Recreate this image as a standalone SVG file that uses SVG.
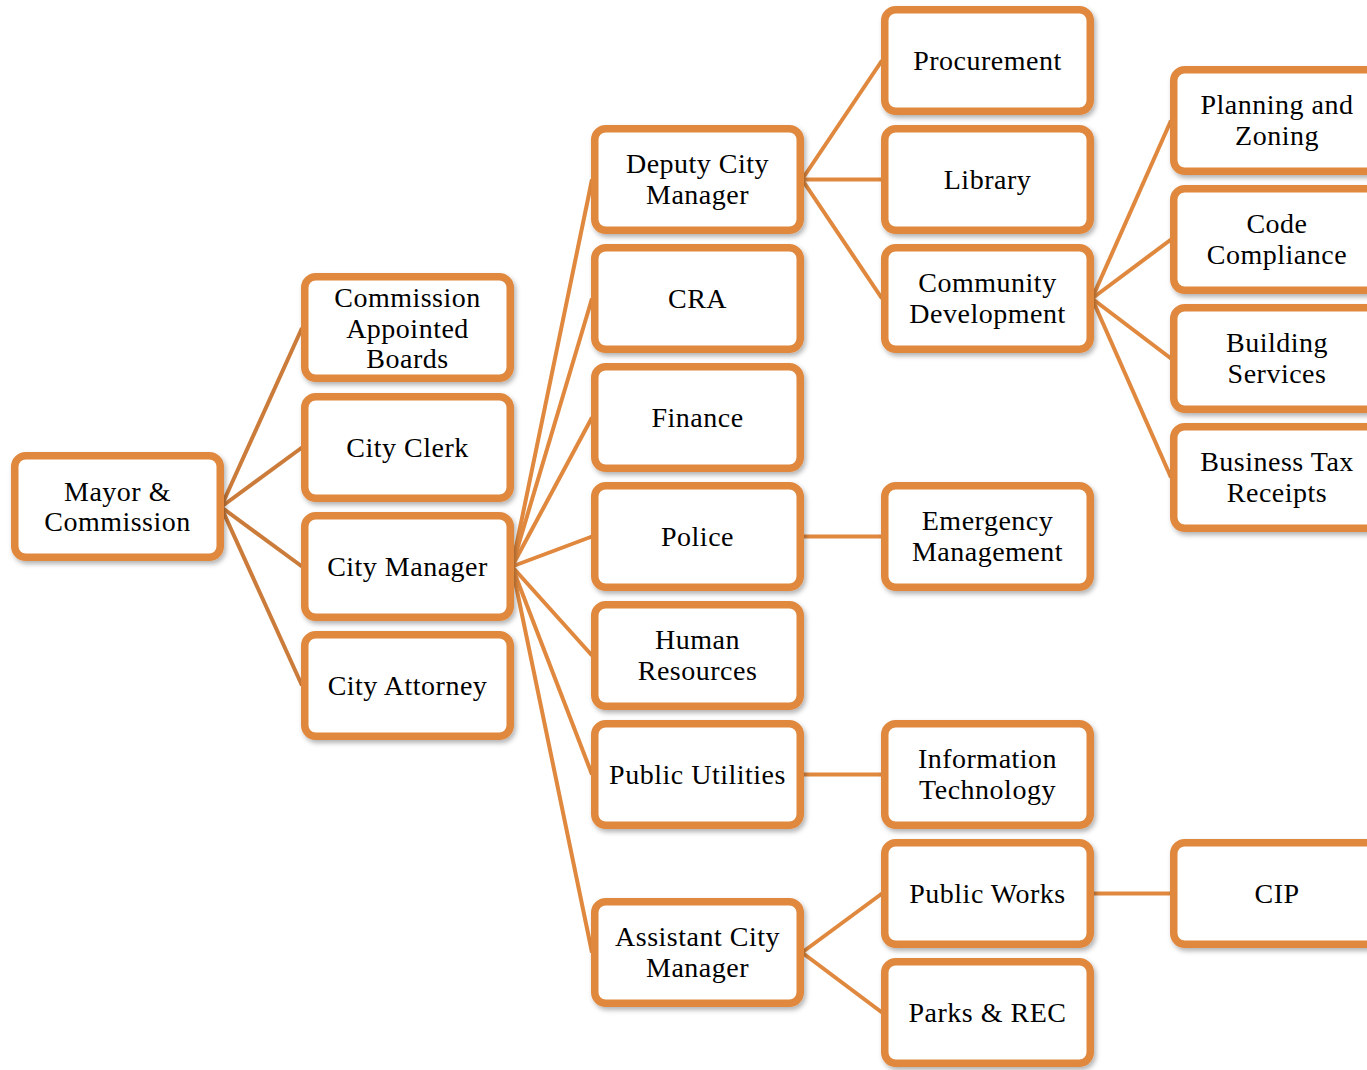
<svg xmlns="http://www.w3.org/2000/svg" width="1367" height="1070" viewBox="0 0 1367 1070">
<defs>
<filter id="sh" x="-10%" y="-10%" width="125%" height="130%">
<feDropShadow dx="2" dy="3" stdDeviation="2.5" flood-color="#000" flood-opacity="0.3"/>
</filter>
<style>
.n rect{fill:#fff;stroke:#E0883E;stroke-width:7.5;filter:url(#sh)}
.n text{font-family:"Liberation Serif","Times New Roman",serif;font-size:28px;letter-spacing:0.5px;fill:#000;text-anchor:middle}
.c line{stroke:#E0883E;stroke-width:4}
.c line.m{stroke:#CC7C3A}
</style>
</defs>
<rect width="1367" height="1070" fill="#fff"/>
<g id="connectors" class="c">
<line class="m" x1="221" y1="507" x2="302" y2="328"/>
<line class="m" x1="221" y1="507" x2="302" y2="447.5"/>
<line class="m" x1="221" y1="507" x2="302" y2="566.5"/>
<line class="m" x1="221" y1="507" x2="302" y2="685.5"/>
<line x1="512" y1="566.5" x2="592" y2="179.5"/>
<line x1="512" y1="566.5" x2="592" y2="298.5"/>
<line x1="512" y1="566.5" x2="592" y2="417.5"/>
<line x1="512" y1="566.5" x2="592" y2="536.5"/>
<line x1="512" y1="566.5" x2="592" y2="655.5"/>
<line x1="512" y1="566.5" x2="592" y2="774.5"/>
<line x1="512" y1="566.5" x2="592" y2="952.5"/>
<line x1="802" y1="179.5" x2="882" y2="60.5"/>
<line x1="802" y1="179.5" x2="882" y2="179.5"/>
<line x1="802" y1="179.5" x2="882" y2="298.5"/>
<line x1="802" y1="536.5" x2="882" y2="536.5"/>
<line x1="802" y1="774.5" x2="882" y2="774.5"/>
<line x1="802" y1="952.5" x2="882" y2="893.5"/>
<line x1="802" y1="952.5" x2="882" y2="1012.5"/>
<line x1="1092" y1="298.5" x2="1171" y2="120.5"/>
<line x1="1092" y1="298.5" x2="1171" y2="239.5"/>
<line x1="1092" y1="298.5" x2="1171" y2="358.5"/>
<line x1="1092" y1="298.5" x2="1171" y2="477.5"/>
<line x1="1092" y1="893.5" x2="1171" y2="893.5"/>
</g>
<g id="mayor" class="n"><rect x="14.75" y="455.75" width="205.5" height="101.5" rx="11"/><text x="117.5" y="500.5">Mayor &amp;</text><text x="117.5" y="530.5">Commission</text></g>
<g id="boards" class="n"><rect x="304.75" y="276.75" width="205.5" height="101.5" rx="11"/><text x="407.5" y="307">Commission</text><text x="407.5" y="337.5">Appointed</text><text x="407.5" y="368">Boards</text></g>
<g id="clerk" class="n"><rect x="304.75" y="396.75" width="205.5" height="101.5" rx="11"/><text x="407.5" y="456.5">City Clerk</text></g>
<g id="manager" class="n"><rect x="304.75" y="515.75" width="205.5" height="101.5" rx="11"/><text x="407.5" y="575.5">City Manager</text></g>
<g id="attorney" class="n"><rect x="304.75" y="634.75" width="205.5" height="101.5" rx="11"/><text x="407.5" y="694.5">City Attorney</text></g>
<g id="deputy" class="n"><rect x="594.75" y="128.75" width="205.5" height="101.5" rx="11"/><text x="697.5" y="173">Deputy City</text><text x="697.5" y="203.5">Manager</text></g>
<g id="cra" class="n"><rect x="594.75" y="247.75" width="205.5" height="101.5" rx="11"/><text x="697.5" y="307.5">CRA</text></g>
<g id="finance" class="n"><rect x="594.75" y="366.75" width="205.5" height="101.5" rx="11"/><text x="697.5" y="426.5">Finance</text></g>
<g id="police" class="n"><rect x="594.75" y="485.75" width="205.5" height="101.5" rx="11"/><text x="697.5" y="545.5">Police</text></g>
<g id="hr" class="n"><rect x="594.75" y="604.75" width="205.5" height="101.5" rx="11"/><text x="697.5" y="649">Human</text><text x="697.5" y="679.5">Resources</text></g>
<g id="utilities" class="n"><rect x="594.75" y="723.75" width="205.5" height="101.5" rx="11"/><text x="697.5" y="783.5">Public Utilities</text></g>
<g id="assistant" class="n"><rect x="594.75" y="901.75" width="205.5" height="101.5" rx="11"/><text x="697.5" y="946">Assistant City</text><text x="697.5" y="976.5">Manager</text></g>
<g id="procurement" class="n"><rect x="884.75" y="9.75" width="205.5" height="101.5" rx="11"/><text x="987.5" y="69.5">Procurement</text></g>
<g id="library" class="n"><rect x="884.75" y="128.75" width="205.5" height="101.5" rx="11"/><text x="987.5" y="188.5">Library</text></g>
<g id="community" class="n"><rect x="884.75" y="247.75" width="205.5" height="101.5" rx="11"/><text x="987.5" y="292">Community</text><text x="987.5" y="322.5">Development</text></g>
<g id="emergency" class="n"><rect x="884.75" y="485.75" width="205.5" height="101.5" rx="11"/><text x="987.5" y="530">Emergency</text><text x="987.5" y="560.5">Management</text></g>
<g id="it" class="n"><rect x="884.75" y="723.75" width="205.5" height="101.5" rx="11"/><text x="987.5" y="768">Information</text><text x="987.5" y="798.5">Technology</text></g>
<g id="publicworks" class="n"><rect x="884.75" y="842.75" width="205.5" height="101.5" rx="11"/><text x="987.5" y="902.5">Public Works</text></g>
<g id="parks" class="n"><rect x="884.75" y="961.75" width="205.5" height="101.5" rx="11"/><text x="987.5" y="1021.5">Parks &amp; REC</text></g>
<g id="planning" class="n"><rect x="1173.75" y="69.75" width="205.5" height="101.5" rx="11"/><text x="1277" y="114">Planning and</text><text x="1277" y="144.5">Zoning</text></g>
<g id="code" class="n"><rect x="1173.75" y="188.75" width="205.5" height="101.5" rx="11"/><text x="1277" y="233">Code</text><text x="1277" y="263.5">Compliance</text></g>
<g id="building" class="n"><rect x="1173.75" y="307.75" width="205.5" height="101.5" rx="11"/><text x="1277" y="352">Building</text><text x="1277" y="382.5">Services</text></g>
<g id="btr" class="n"><rect x="1173.75" y="426.75" width="205.5" height="101.5" rx="11"/><text x="1277" y="471">Business Tax</text><text x="1277" y="501.5">Receipts</text></g>
<g id="cip" class="n"><rect x="1173.75" y="842.75" width="205.5" height="101.5" rx="11"/><text x="1277" y="902.5">CIP</text></g>
</svg>
